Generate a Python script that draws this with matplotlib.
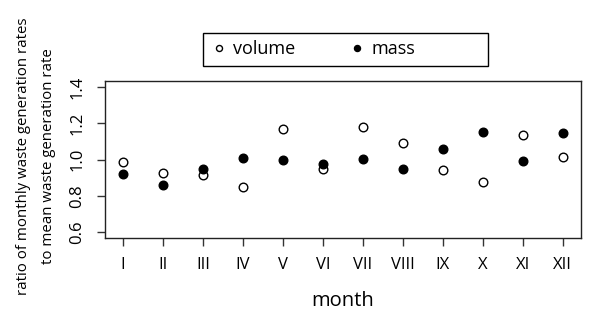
import matplotlib

matplotlib.use("Agg")
import matplotlib.pyplot as plt
import numpy as np
from matplotlib.patches import Rectangle

MONTHS = ["I", "II", "III", "IV", "V", "VI", "VII", "VIII", "IX", "X", "XI", "XII"]
VOLUME = [0.985, 0.927, 0.912, 0.848, 1.168, 0.945, 1.177, 1.093, 0.940, 0.876, 1.135, 1.015]
MASS = [0.920, 0.859, 0.949, 1.009, 0.996, 0.976, 1.004, 0.949, 1.060, 1.152, 0.991, 1.146]
Y_TICKS = [0.6, 0.8, 1.0, 1.2, 1.4]

W, H = 595, 318
plt.rcParams["font.family"] = ["Open Sans", "DejaVu Sans"]

fig = plt.figure(figsize=(W / 100, H / 100), dpi=100, facecolor="white")
ax = fig.add_axes([105 / W, 80 / H, 476 / W, 157 / H])

x = np.arange(1, len(MONTHS) + 1)
ax.plot(x, VOLUME, "o", ms=6.2, mfc="white", mec="black", mew=1.0, label="volume")
ax.plot(x, MASS, "o", ms=6.2, mfc="black", mec="black", mew=1.0, label="mass")

ax.set_xlim(0.55, 12.46)
ax.set_ylim(0.568, 1.432)
ax.set_xticks(x)
ax.set_xticklabels(MONTHS, fontsize=12)
ax.set_yticks(Y_TICKS)
ax.set_yticklabels([f"{v:.1f}" for v in Y_TICKS], fontsize=12, rotation=90, va="center")
ax.tick_params(axis="both", direction="out", length=6, width=1, color="#333333", pad=8)
for s in ax.spines.values():
    s.set_linewidth(1.0)
    s.set_color("#222222")

ax.set_xlabel("month", fontsize=14.5, labelpad=13)
ax.set_ylabel("ratio of monthly waste generation rates\nto mean waste generation rate",
              fontsize=10.8, linespacing=1.95, va="center", ha="center")
ax.yaxis.set_label_coords((36 - 105) / 476, 0.52)

# legend box as in the reference (wider than its contents)
fig.patches.append(Rectangle((203 / W, 1 - 66 / H), 285 / W, 33 / H,
                             transform=fig.transFigure, fill=False,
                             edgecolor="black", linewidth=1.0))
fig.legend(
    loc="center left",
    bbox_to_anchor=(210 / W, 1 - 49.5 / H),
    ncol=2,
    fontsize=13,
    markerscale=0.7,
    handlelength=1.0,
    handletextpad=0.3,
    columnspacing=2.9,
    borderpad=0,
    borderaxespad=0,
    frameon=False,
)

fig.savefig("out.png", dpi=100, facecolor="white")
